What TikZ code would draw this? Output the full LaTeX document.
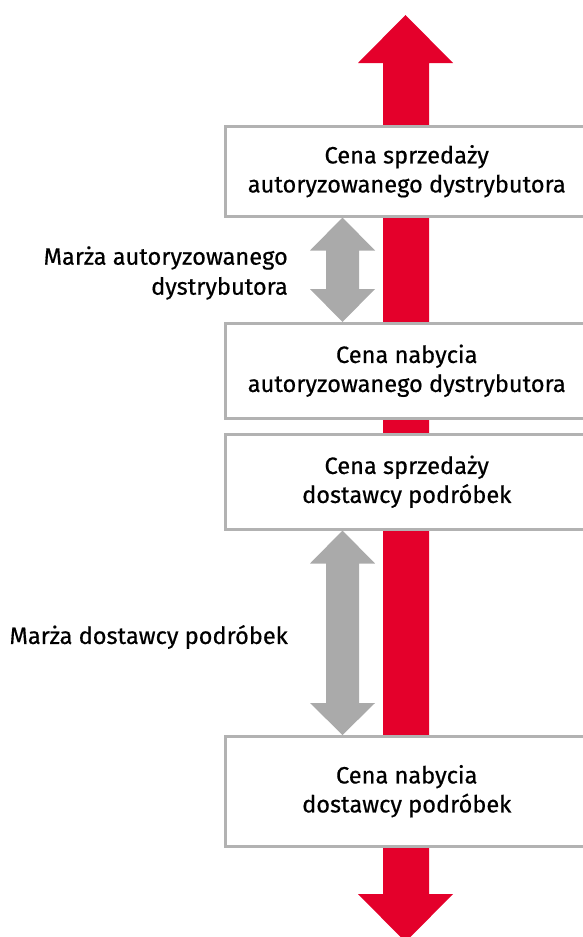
\documentclass[tikz,border=0pt]{standalone}
\usepackage{fontspec}
\setmainfont{Fira Sans}[FakeBold=0.5]
\usetikzlibrary{calc}
\definecolor{redarr}{RGB}{228,0,43}
\definecolor{grayarr}{RGB}{170,170,170}
\definecolor{boxline}{RGB}{178,178,178}
\begin{document}
\begin{tikzpicture}[x=1pt,y=-1pt,
  pricebox/.style={draw=boxline, line width=2.5pt, fill=white, minimum width=363pt,
    anchor=north west, inner sep=0pt, align=center, font=\fontsize{23.6}{29}\selectfont},
  marginlabel/.style={anchor=east, inner sep=0pt, align=right, font=\fontsize{23.6}{30}\selectfont}]
\useasboundingbox (0,0) rectangle (582,937);
% red background arrow
\fill[redarr] (383,63) -- (358,63) -- (405.5,15) -- (453,63) -- (429,63) -- (429,894)
  -- (453,894) -- (405.5,942) -- (358,894) -- (383,894) -- cycle;
% boxes
\node[pricebox, minimum height=90pt] (b1) at (224,125) {Cena sprzedaży\\autoryzowanego dystrybutora};
\node[pricebox, minimum height=95pt] (b2) at (224,322) {Cena nabycia\\autoryzowanego dystrybutora};
\node[pricebox, minimum height=95pt] (b3) at (224,433) {Cena sprzedaży\\dostawcy podróbek};
\node[pricebox, minimum height=110pt] (b4) at (224,735) {Cena nabycia\\dostawcy podróbek};
% gray double arrows
\coordinate (gx) at (342.5,0);
\fill[grayarr] (b1.south -| gx) -- ++(32.5,33) -- ++(-16,0) -- ($(b2.north -| gx)+(16.5,-33)$)
  -- ++(16,0) -- (b2.north -| gx) -- ++(-32.5,-33) -- ++(16,0) -- ($(b1.south -| gx)+(-16.5,33)$)
  -- ++(-16,0) -- cycle;
\fill[grayarr] (b3.south -| gx) -- ++(32.5,33) -- ++(-16,0) -- ($(b4.north -| gx)+(16.5,-32)$)
  -- ++(16,0) -- (b4.north -| gx) -- ++(-32.5,-32) -- ++(16,0) -- ($(b3.south -| gx)+(-16.5,33)$)
  -- ++(-16,0) -- cycle;
% labels
\node[marginlabel] (l1) at (288,273) {Marża autoryzowanego\\dystrybutora};
\node[marginlabel] (l2) at (288,637) {Marża dostawcy podróbek};
\end{tikzpicture}
\end{document}
